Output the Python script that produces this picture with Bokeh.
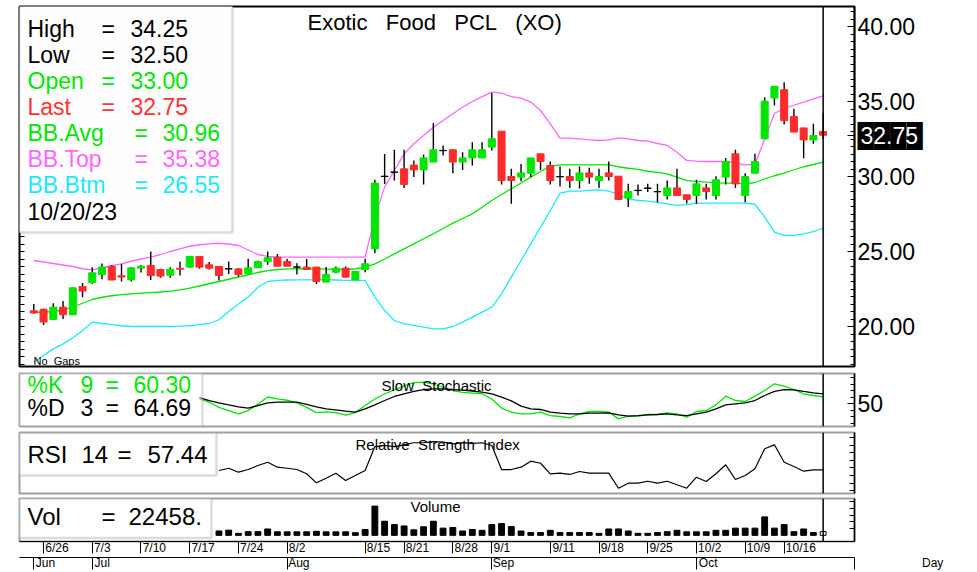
import numpy as np
from bokeh.plotting import figure
from bokeh.layouts import column
from bokeh.models import (Range1d, LinearAxis, FixedTicker, CustomJSTickFormatter,
                          Span, BoxAnnotation, Label)
from bokeh.embed import file_html
from bokeh.resources import INLINE

# ---------------- data ----------------
opens = [21.05, 21.15, 20.47, 21.29, 20.78, 22.67, 22.93, 23.47, 24.0, 23.38,
         23.11, 23.89, 24.07, 23.8, 23.42, 23.88, 23.96, 24.67, 24.11, 24.0,
         23.85, 23.84, 23.51, 23.91, 24.33, 24.62, 24.33, 23.97, 23.96, 23.96,
         22.96, 23.62, 23.89, 23.11, 23.8, 25.18, 30.0, 30.28, 30.51, 30.76,
         30.44, 30.96, 31.74, 31.78, 30.96, 31.24, 31.24, 31.96, 33.02, 30.0,
         29.96, 30.22, 31.51, 30.73, 30.0, 30.0, 29.73, 30.24, 29.73, 30.24,
         30.02, 28.56, 29.08, 29.23, 29.0, 28.73, 29.24, 28.78, 28.73, 29.24,
         28.73, 29.96, 31.51, 28.73, 30.22, 32.51, 35.24, 35.78, 34.0, 33.24,
         32.44, 33.0]
highs = [21.5, 21.2, 21.55, 21.7, 22.6, 22.9, 23.95, 24.2, 24.1, 24.18,
         23.95, 24.1, 25.0, 23.85, 23.95, 24.33, 24.7, 24.7, 24.3, 24.0,
         24.33, 23.9, 24.51, 24.4, 25.0, 24.84, 24.5, 24.22, 24.5, 23.96,
         23.96, 24.0, 24.0, 23.67, 24.51, 29.78, 31.5, 31.78, 31.78, 31.07,
         31.47, 33.56, 32.07, 31.8, 31.62, 32.29, 32.29, 35.56, 33.02, 30.51,
         30.84, 31.24, 31.51, 31.0, 30.67, 30.51, 30.67, 30.58, 30.51, 31.0,
         30.02, 29.51, 29.47, 29.51, 29.51, 29.73, 30.51, 28.8, 29.78, 29.51,
         30.02, 31.24, 31.78, 30.22, 31.51, 35.29, 36.02, 36.29, 34.51, 33.24,
         33.51, 34.25]
lows = [20.85, 20.1, 20.45, 20.5, 20.78, 21.95, 22.85, 23.15, 23.1, 23.0,
        23.0, 23.6, 23.1, 23.25, 23.25, 23.4, 23.9, 23.85, 23.8, 23.07,
        23.5, 23.33, 23.5, 23.9, 24.11, 24.0, 24.0, 23.47, 23.8, 22.84,
        22.96, 23.55, 23.29, 23.11, 23.62, 24.89, 29.5, 29.73, 29.24, 29.96,
        29.47, 30.96, 31.4, 30.22, 30.44, 30.73, 31.24, 31.73, 29.47, 28.18,
        29.69, 29.96, 30.44, 29.47, 29.33, 29.24, 29.2, 29.51, 29.24, 29.73,
        28.47, 27.96, 28.73, 28.96, 28.29, 28.47, 28.73, 28.2, 28.18, 28.47,
        28.47, 29.47, 29.24, 28.29, 30.22, 32.51, 34.73, 33.47, 32.96, 31.22,
        32.18, 32.5]
closes = [20.9, 20.3, 21.29, 20.78, 22.58, 22.36, 23.58, 23.96, 23.1, 23.3,
          23.91, 24.02, 23.4, 23.36, 23.82, 23.82, 24.67, 23.96, 23.89, 23.4,
          23.84, 23.47, 23.91, 24.33, 24.58, 24.02, 24.02, 23.96, 23.8, 23.0,
          23.47, 23.89, 23.29, 23.67, 24.18, 29.56, 30.02, 30.3, 29.47, 30.44,
          31.24, 31.78, 31.72, 30.96, 31.24, 31.78, 31.78, 32.51, 29.73, 29.73,
          30.24, 31.24, 31.0, 29.73, 29.98, 29.73, 30.24, 29.96, 30.0, 30.0,
          28.47, 29.0, 29.06, 29.21, 28.98, 29.24, 28.73, 28.47, 29.51, 29.0,
          29.78, 31.0, 29.51, 30.0, 31.0, 35.02, 36.02, 33.73, 32.96, 32.44,
          32.73, 32.75]
bb_top = [24.4, 24.3, 24.2, 24.1, 24.0, 23.85, 23.78, 23.9, 24.05, 24.18,
          24.35, 24.5, 24.62, 24.8, 25.0, 25.18, 25.35, 25.45, 25.51, 25.55,
          25.5, 25.4, 25.1, 24.8, 24.68, 24.62, 24.62, 24.62, 24.62, 24.62,
          24.62, 24.62, 24.62, 24.62, 24.62, 27.29, 29.29, 30.4, 31.51, 32.18,
          32.73, 33.29, 33.73, 34.18, 34.62, 35.0, 35.33, 35.62, 35.56, 35.33,
          35.22, 34.96, 34.4, 33.51, 32.56, 32.56, 32.51, 32.44, 32.4, 32.44,
          32.58, 32.51, 32.4, 32.36, 32.2, 32.07, 31.62, 31.07, 31.02, 31.0,
          31.0, 31.0, 30.89, 30.78, 30.82, 32.5, 34.2, 34.55, 34.75, 34.96,
          35.18, 35.38]
bb_avg = [20.95, 20.95, 21.0, 21.1, 21.3, 21.55, 21.8, 21.95, 22.05, 22.12,
          22.18, 22.22, 22.26, 22.3, 22.36, 22.44, 22.56, 22.7, 22.85, 23.0,
          23.15, 23.3, 23.45, 23.6, 23.72, 23.8, 23.84, 23.85, 23.85, 23.84,
          23.82, 23.8, 23.8, 23.85, 23.96, 24.18, 24.5, 24.84, 25.18, 25.51,
          25.85, 26.18, 26.53, 26.89, 27.2, 27.51, 27.95, 28.4, 28.8, 29.18,
          29.57, 29.96, 30.33, 30.69, 30.78, 30.78, 30.78, 30.78, 30.78, 30.78,
          30.65, 30.55, 30.47, 30.35, 30.27, 30.18, 29.96, 29.73, 29.67, 29.62,
          29.58, 29.56, 29.56, 29.51, 29.6, 29.84, 30.05, 30.22, 30.45, 30.65,
          30.8, 30.96]
bb_btm = [17.62, 18.07, 18.51, 18.84, 19.24, 19.73, 20.29, 20.2, 20.12, 20.05,
          20.0, 20.0, 20.0, 20.0, 20.0, 20.02, 20.05, 20.12, 20.2, 20.45,
          21.0, 21.5, 21.96, 22.62, 23.0, 23.07, 23.1, 23.11, 23.11, 23.12,
          23.12, 23.1, 23.08, 23.07, 23.07, 21.96, 21.07, 20.4, 20.18, 20.07,
          19.96, 19.84, 19.84, 20.0, 20.29, 20.62, 20.96, 21.29, 22.18, 23.29,
          24.4, 25.51, 26.62, 27.73, 28.89, 29.02, 29.02, 29.07, 29.11, 29.02,
          28.8, 28.51, 28.4, 28.36, 28.27, 28.18, 28.07, 28.13, 28.22, 28.22,
          28.22, 28.22, 28.22, 28.22, 28.15, 27.29, 26.29, 26.07, 26.07, 26.18,
          26.33, 26.55]

stoch_start = 17
stoch_k = [57, 52, 44, 39, 34, 39, 49, 60, 57, 55, 51, 44, 36, 37, 36, 32, 36,
           47, 57, 65, 71, 77, 82, 83, 80, 75, 70, 67, 66, 65, 57, 43,
           36.7, 34.1, 34.1, 36.7, 31.5, 30, 28, 34.1, 37.7, 37.7, 36.7, 26.4,
           30.5, 30.5, 33.1, 33.1, 35.6, 34.1, 29, 37.7, 39.2, 47.9, 61.3, 54.6,
           53.1, 61.3, 70, 80.3, 76.7, 71.5, 64.9, 62.3, 60.30]
stoch_d = [59.2, 54.6, 51, 47.9, 44.9, 42.8, 46.9, 51, 52, 52, 52, 48.5, 44.9,
           41.8, 40.3, 38.2, 36.7, 41.8, 47.9, 54.6, 60.8, 64.9, 68.5, 71.5,
           72.6, 72.6, 71.5, 70.5, 69, 67.4, 64.9, 59.7,
           54, 45.9, 41.8, 40.8, 36.7, 35.1, 34.1, 34.1, 35.1, 35.1, 35.6, 32.6,
           30.5, 31.5, 32.6, 33.1, 34.1, 32.6, 31.5, 34.1, 36.7, 41.8, 47.9,
           49.5, 51, 54.6, 62.3, 68.5, 71.5, 71, 68.5, 66.4, 64.69]

rsi_start = 19
rsi = [56.5, 59.5, 54.3, 57.8, 63.1, 67.4, 60.9, 59.5, 57.8, 52.2,
       40.3, 46.4, 53, 43.4, 50, 56.5, 88, 89.4, 88, 90.3,
       93, 93, 94.7, 93.8, 91.6, 93, 92.3, 93, 89.4, 57.8,
       57.8, 60.9, 68.8, 66.1, 52.2, 53, 51.3, 55.2, 53, 53,
       53, 33.2, 39.8, 39.8, 42.4, 39.8, 42.4, 37.7, 33.2, 47.7,
       42, 52.2, 64, 44.7, 50, 58.8, 85.1, 90.3, 67.4, 61.8,
       55.6, 57.4, 57.44]

vol_start = 19
volume = [26000, 31000, 12000, 22000, 22000, 38000, 21000, 21000, 21000, 21000,
          24000, 21000, 21000, 21000, 16000, 35000, 174000, 84000, 64000, 56000,
          33000, 51000, 84000, 43000, 47000, 26000, 35000, 30000, 64000, 70000,
          52000, 26000, 17000, 17000, 30000, 17000, 17000, 17000, 17000, 12000,
          38000, 38000, 26000, 12000, 12000, 17000, 22000, 30000, 21000, 21000,
          21000, 30000, 30000, 43000, 43000, 43000, 110000, 43000, 64000, 22000,
          38000, 17000, 22458]

last_date = "10/20/23"
price_ticks = [20, 25, 30, 35, 40]
date_tick_bars = [1, 6, 11, 16, 21, 26, 34, 38, 43, 47, 53, 58, 63, 68, 73, 77]
date_tick_labels = ["6/26", "7/3", "7/10", "7/17", "7/24", "8/2", "8/15", "8/21",
                    "8/28", "9/1", "9/11", "9/18", "9/25", "10/2", "10/9", "10/16"]
month_tick_bars = [0, 6, 26, 47, 68]
month_labels = ["Jun", "Jul", "Aug", "Sep", "Oct"]
period_label = "Day"

# ---------------- style ----------------
FONT = "Liberation Sans"
GREEN = "#00e600"
RED = "#ff2b2b"
PINK = "#ff66ff"
CYAN = "#1ee8ff"
BOXLINE = "#8c8c8c"
NB = "\u00a0"

X0, DX = 33.3, 9.745
def X(px): return (px - X0) / DX
def PX(x): return X0 + DX * x
def Y1(py): return 40 - (py - 26) / 15.0
def Y2(py): return 50 + (403 - py) / 0.65
def Y3(py): return 57.44 + (469.3 - py) / 0.76
def Y4(py): return (540 - py) * 5223.0

CHAR_W = {"0": 556, "1": 556, "2": 556, "3": 556, "4": 556, "5": 556, "6": 556,
          "7": 556, "8": 556, "9": 556, "/": 278, "J": 500, "u": 556, "n": 556,
          "l": 222, "A": 667, "g": 556, "S": 667, "e": 556, "p": 556, "O": 778,
          "c": 500, "t": 278, "D": 722, "a": 556, "y": 500}
def padded_at(s, tick_px, start_px, size=12.0):
    # centred tick label whose visible text starts at start_px
    w = sum(CHAR_W.get(ch, 556) for ch in s) / 1000.0 * size
    nb = 0.278 * size
    k = max(0, int(round(2 * (start_px - tick_px + w / 2) / nb)))
    return NB * k + s

n = len(closes)
last = n - 1
idx = list(range(n))
W = 966
x_range = Range1d(X(19), X(854))

def make_fig(height, yr, top, bottom, xaxis=False):
    p = figure(width=W, height=height, x_range=x_range, y_range=yr,
               output_backend="svg", toolbar_location=None,
               x_axis_location=("below" if xaxis else None), y_axis_location="right",
               min_border_left=19, min_border_right=W - 854,
               min_border_top=top, min_border_bottom=bottom,
               background_fill_color="white", border_fill_color="white")
    p.xgrid.visible = False
    p.ygrid.visible = False
    ax = p.yaxis[0]
    ax.axis_line_color = "black"
    ax.axis_line_width = 1.5
    ax.major_tick_out = 0
    ax.minor_tick_out = 0
    ax.major_tick_in = 7
    ax.minor_tick_in = 4
    ax.major_label_text_font = FONT
    ax.major_label_text_font_size = "23px"
    ax.major_label_text_color = "black"
    ax.major_label_standoff = 3
    return p

def lab(p, px, y, text, color="black", size="23px", align="left"):
    p.add_layout(Label(x=X(px), y=y, text=text, text_color=color, text_font=FONT,
                       text_font_size=size, text_baseline="middle", text_align=align))

# ---------------- price panel ----------------
p1 = make_fig(369, Range1d(Y1(366), Y1(6)), 6, 3)
p1.outline_line_color = "black"
p1.outline_line_width = 2
last_px = closes[-1]
ax = p1.yaxis[0]
ax.ticker = FixedTicker(ticks=sorted(price_ticks + [last_px]),
                        minor_ticks=list(np.arange(17.5, 41.01, 0.5)))
# the marker for the last price is a black block behind its value
ax.formatter = CustomJSTickFormatter(args=dict(mark=last_px), code="""
    if (Math.abs(tick - mark) < 1e-6) { return '\\u2588\\u2588\\u2588\\u2588'; }
    return tick.toFixed(2);
""")
last_ax = LinearAxis(ticker=FixedTicker(ticks=[last_px]),
                     formatter=CustomJSTickFormatter(code="return tick.toFixed(2);"),
                     axis_line_color=None, major_tick_line_color=None, minor_tick_line_color=None,
                     major_tick_in=0, major_tick_out=0, minor_tick_in=0, minor_tick_out=0,
                     major_label_standoff=-65, major_label_text_font=FONT,
                     major_label_text_font_size="23px", major_label_text_color="white")
p1.add_layout(last_ax, "right")
left_ax = LinearAxis(ticker=FixedTicker(ticks=list(np.arange(17.5, 41.01, 0.5))),
                     formatter=CustomJSTickFormatter(code="return ''"),
                     major_tick_in=5, major_tick_out=0, minor_tick_in=0, minor_tick_out=0,
                     major_label_standoff=0, axis_line_color="black")
p1.add_layout(left_ax, "left")

p1.line(idx, bb_top, line_color=PINK, line_width=1.3)
p1.line(idx, bb_avg, line_color=GREEN, line_width=1.3)
p1.line(idx, bb_btm, line_color=CYAN, line_width=1.3)

body_top = np.maximum(opens, closes)
body_bot = np.minimum(opens, closes)
cols = ["black" if abs(c - o) < 0.05 else (GREEN if c > o else RED)
        for o, c in zip(opens, closes)]
p1.segment(idx, lows, idx, highs, line_color="black", line_width=1.4)
p1.vbar(x=idx, width=0.72, top=body_top, bottom=body_bot,
        fill_color=cols, line_color=cols, line_width=1)
p1.add_layout(Span(location=last, dimension="height", line_color="black", line_width=1.5))

p1.add_layout(BoxAnnotation(left=X(18), right=X(232), top=Y1(5), bottom=Y1(232),
                            fill_color="#fefefe", fill_alpha=1, line_color=BOXLINE, line_width=2.5))
rows = [("High", "=", f"{highs[-1]:.2f}", "black", 28, 101, 130),
        ("Low", "=", f"{lows[-1]:.2f}", "black", 54, 101, 130),
        ("Open", "=", f"{opens[-1]:.2f}", GREEN, 80, 101, 130),
        ("Last", "=", f"{closes[-1]:.2f}", "#ff3333", 106, 101, 130),
        ("BB.Avg", "=", f"{bb_avg[-1]:.2f}", GREEN, 132, 134, 162),
        ("BB.Top", "=", f"{bb_top[-1]:.2f}", PINK, 158, 134, 162),
        ("BB.Btm", "=", f"{bb_btm[-1]:.2f}", CYAN, 184, 134, 162)]
for name, eq, val, colr, py, pxe, pxv in rows:
    lab(p1, 27, Y1(py), name, colr)
    lab(p1, pxe, Y1(py), eq, colr)
    lab(p1, pxv, Y1(py), val, colr)
lab(p1, 27, Y1(211), last_date)
lab(p1, 307, Y1(22), "Exotic" + NB * 2 + " Food" + NB * 2 + " PCL" + NB * 2 + " (XO)", size="22px")
lab(p1, 33, Y1(360), "No" + NB + " Gaps", size="11px")

# ---------------- stochastic panel ----------------
p2 = make_fig(61, Range1d(Y2(426), Y2(373)), 4, 4)
p2.outline_line_color = "#9f9f9f"
p2.outline_line_width = 2
p2.yaxis[0].ticker = FixedTicker(ticks=[50], minor_ticks=[20, 30, 40, 60, 70, 80, 90])
sidx = list(range(stoch_start, stoch_start + len(stoch_k)))
p2.line(sidx, stoch_k, line_color=GREEN, line_width=1.3)
p2.line(sidx, stoch_d, line_color="black", line_width=1.3)
p2.add_layout(Span(location=last, dimension="height", line_color="black", line_width=1.5))
p2.add_layout(BoxAnnotation(left=X(18), right=X(202), top=Y2(360), bottom=Y2(426),
                            fill_color="#fefefe", line_color=BOXLINE, line_width=2.5))
lab(p2, 27, Y2(384), "%K", GREEN, "23px")
lab(p2, 80, Y2(384), "9", GREEN, "23px")
lab(p2, 105, Y2(384), "=", GREEN, "23px")
lab(p2, 133, Y2(384), f"{stoch_k[-1]:.2f}", GREEN, "23px")
lab(p2, 27, Y2(407), "%D", "black", "23px")
lab(p2, 80, Y2(407), "3", "black", "23px")
lab(p2, 105, Y2(407), "=", "black", "23px")
lab(p2, 133, Y2(407), f"{stoch_d[-1]:.2f}", "black", "23px")
lab(p2, 381, Y2(385), "Slow" + NB + " Stochastic", size="15px")

# ---------------- RSI panel ----------------
p3 = make_fig(66, Range1d(Y3(493), Y3(432)), 2, 3)
p3.outline_line_color = "#9f9f9f"
p3.outline_line_width = 2
p3.yaxis[0].ticker = FixedTicker(ticks=[30, 40, 50, 60, 70, 80, 90, 100])
p3.yaxis[0].formatter = CustomJSTickFormatter(code="return ''")
p3.yaxis[0].major_tick_in = 5
ridx = list(range(rsi_start, rsi_start + len(rsi)))
p3.line(ridx, rsi, line_color="black", line_width=1.2)
p3.add_layout(Span(location=last, dimension="height", line_color="black", line_width=1.5))
p3.add_layout(BoxAnnotation(left=X(18), right=X(216), top=Y3(432), bottom=Y3(475),
                            fill_color="#fefefe", line_color=BOXLINE, line_width=2.5))
lab(p3, 27, Y3(454), "RSI", "black", "24px")
lab(p3, 81, Y3(454), "14", "black", "24px")
lab(p3, 117, Y3(454), "=", "black", "24px")
lab(p3, 147, Y3(454), f"{rsi[-1]:.2f}", "black", "24px")
lab(p3, 355, Y3(443.5), "Relative" + NB + " Strength" + NB + " Index", size="15px")

# ---------------- volume panel ----------------
p4 = make_fig(76, Range1d(Y4(547), Y4(498)), 2, 25, xaxis=True)
p4.outline_line_color = "#9f9f9f"
p4.outline_line_width = 2
p4.yaxis[0].ticker = FixedTicker(ticks=[40000, 80000, 120000, 160000, 200000])
p4.yaxis[0].formatter = CustomJSTickFormatter(code="return ''")
p4.yaxis[0].major_tick_in = 5
vidx = list(range(vol_start, vol_start + len(volume)))
vfill = ["black"] * (len(volume) - 1) + ["white"]
p4.vbar(x=vidx, width=0.6, top=volume, bottom=0, fill_color=vfill,
        line_color="black", line_width=1)
p4.add_layout(Span(location=last, dimension="height", line_color="black", line_width=1.5))
p4.add_layout(BoxAnnotation(left=X(18), right=X(211), top=Y4(497), bottom=Y4(543),
                            fill_color="#fefefe", line_color=BOXLINE, line_width=2.5))
lab(p4, 27, Y4(519), "Vol", "black", "24px")
lab(p4, 101, Y4(519), "=", "black", "24px")
lab(p4, 128, Y4(519), f"{volume[-1]}.", "black", "24px")
lab(p4, 410, Y4(507.5), "Volume", size="15px")

fmt_code = """
let best = 0, d = 1e9;
for (let i = 0; i < pos.length; i++) { const e = Math.abs(pos[i] - tick); if (e < d) { d = e; best = i; } }
return lab[best];
"""
xa = p4.xaxis[0]
xa.ticker = FixedTicker(ticks=date_tick_bars)
xa.formatter = CustomJSTickFormatter(
    args=dict(pos=date_tick_bars,
              lab=[padded_at(s, PX(t), PX(t) + 1.7) for s, t in zip(date_tick_labels, date_tick_bars)]),
    code=fmt_code)
xa.major_tick_out = 12
xa.major_tick_in = 0
xa.minor_tick_out = 0
xa.minor_tick_in = 0
xa.major_label_standoff = -13
xa.major_label_text_font = FONT
xa.major_label_text_font_size = "12px"
xa.major_label_text_color = "black"
xa.axis_line_color = "black"

# month row; the bar period ("Day") sits at the right end of the same row
end_tick = X(853.8)
m_pos = month_tick_bars + [end_tick]
m_lab = [padded_at(s, PX(t), PX(t) + 1.7) for s, t in zip(month_labels, month_tick_bars)]
m_lab.append(padded_at(period_label, PX(end_tick), 921))
ma = LinearAxis(ticker=FixedTicker(ticks=m_pos),
                formatter=CustomJSTickFormatter(args=dict(pos=m_pos, lab=m_lab), code=fmt_code),
                major_tick_out=12, major_tick_in=0, minor_tick_out=0, minor_tick_in=0,
                major_label_standoff=-14, major_label_text_font=FONT,
                major_label_text_font_size="12px", major_label_text_color="black",
                axis_line_color="black")
p4.add_layout(ma, "below")

layout = column(p1, p2, p3, p4, spacing=0)
open("out.html", "w").write(file_html(layout, INLINE))
